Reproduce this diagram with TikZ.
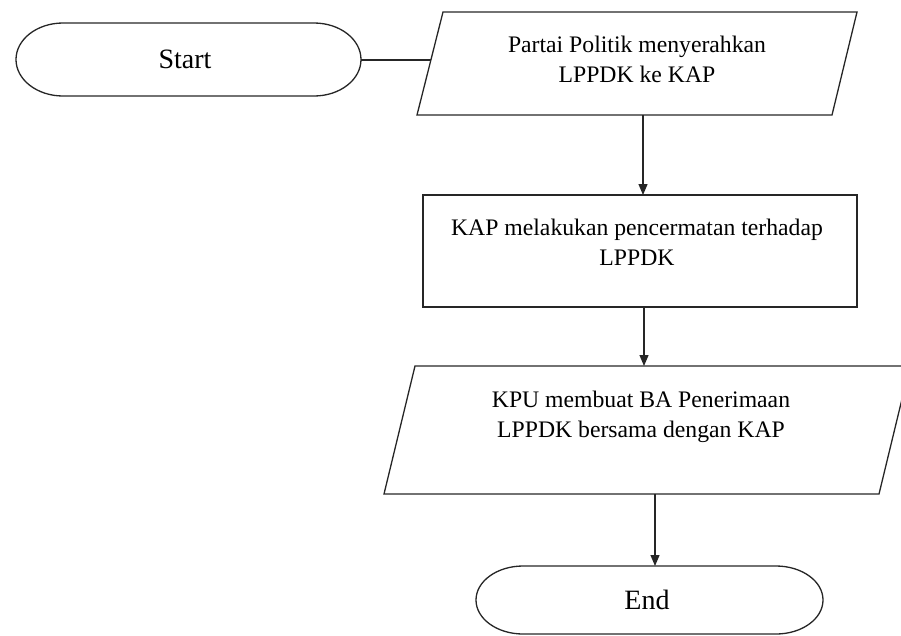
\documentclass[tikz,border=0pt]{standalone}
\usepackage{fontspec}
\setmainfont{Liberation Serif}
\usetikzlibrary{arrows.meta}
\begin{document}
\begin{tikzpicture}[x=1pt,y=-1pt,
  outline/.style={draw=black!85, line width=1.3pt, line join=miter},
  conn/.style={draw=black!85, line width=1.2pt},
  arr/.style={conn, -{Triangle[length=11pt,width=9pt]}},
  body/.style={font=\fontsize{23.7}{30}\selectfont, align=center, inner sep=0pt},
  term/.style={font=\fontsize{28}{32}\selectfont, inner sep=0pt}]
\useasboundingbox (0,0) rectangle (901,635);
\clip (0,0) rectangle (901,635);
% Start terminator
\draw[outline] (63,23) -- (314,23) arc[start angle=90,end angle=-90,x radius=47pt,y radius=36.5pt]
  -- (63,96) arc[start angle=270,end angle=90,x radius=47pt,y radius=36.5pt] -- cycle;
% Input 1
\draw[outline] (417,115) -- (443,12) -- (857,12) -- (832,115) -- cycle;
% Process
\draw[outline] (423,195) rectangle (857,307);
% Input 2
\draw[outline] (384,494) -- (415,366) -- (910,366) -- (879,494) -- cycle;
% End terminator
\draw[outline] (523,566) -- (776,566) arc[start angle=90,end angle=-90,x radius=47pt,y radius=34pt]
  -- (523,634) arc[start angle=270,end angle=90,x radius=47pt,y radius=34pt] -- cycle;

\node[term] (start) at (185,59) {Start};
\node[body] (t1) at (637,59) {Partai Politik menyerahkan\\LPPDK ke KAP};
\node[body] (t2) at (637,242) {KAP melakukan pencermatan terhadap\\LPPDK};
\node[body] (t3) at (641,417) {KPU membuat BA Penerimaan\\LPPDK bersama dengan KAP};
\node[term] (end) at (647,600) {End};

\coordinate (sE) at (361,60);
\coordinate (p1w) at (431,60);
\coordinate (p1s) at (643,115);
\coordinate (rn) at (643,195);
\coordinate (rs) at (644,307);
\coordinate (p2n) at (644,366);
\coordinate (p2s) at (655,494);
\coordinate (en) at (655,566);

\draw[conn] (sE) -- (p1w);
\draw[arr] (p1s) -- (rn);
\draw[arr] (rs) -- (p2n);
\draw[arr] (p2s) -- (en);
\end{tikzpicture}
\end{document}
